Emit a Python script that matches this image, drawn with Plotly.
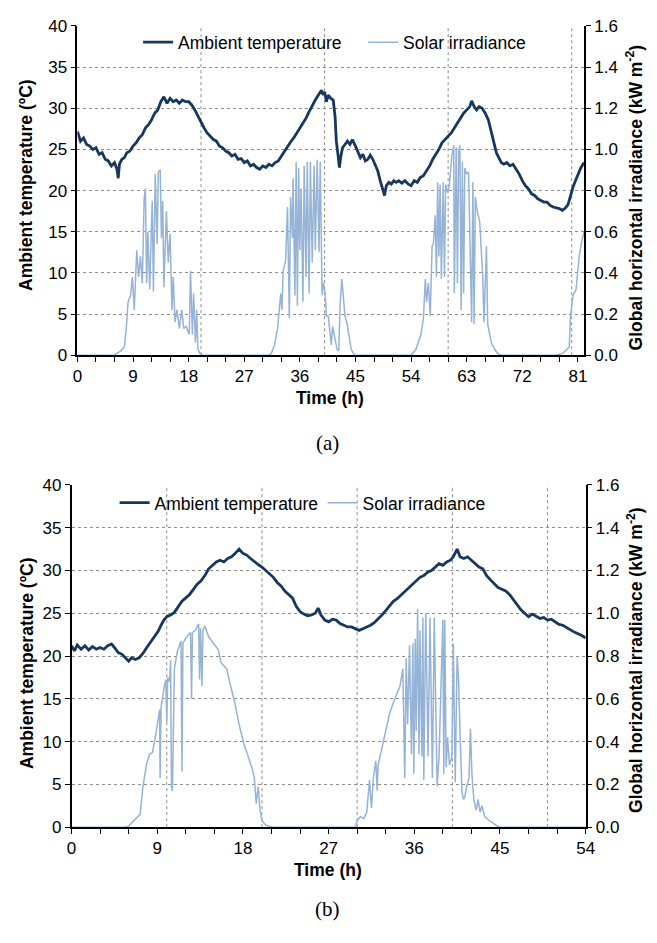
import plotly.graph_objects as go

# ---------------- data: panel (a) ----------------
ta_time = [0, 0.5, 1.0, 1.5, 2.0, 2.5, 3.0, 3.5, 4.0, 4.5, 5.0, 5.5, 6.0, 6.4, 6.6, 6.8, 7.2, 7.6, 8.0, 8.5,
           9.0, 9.5, 10.0, 10.5, 11.0, 11.5, 12.0, 12.5, 13.0, 13.5, 14.0, 14.5, 15.0, 15.5, 16.0, 16.5, 17.0,
           17.5, 18.0, 18.5, 19.0, 19.5, 20.0, 20.5, 21.0, 21.5, 22.0, 22.5, 23.0, 23.5, 24.0, 24.5, 25.0, 25.5,
           26.0, 26.5, 27.0, 27.5, 28.0, 28.5, 29.0, 29.5, 30.0, 30.5, 31.0, 31.5, 32.0, 32.5, 33.0, 33.5, 34.0,
           34.5, 35.0, 35.5, 36.0, 36.5, 37.0, 37.5, 38.0, 38.5, 39.0, 39.5, 39.8, 40.0, 40.3, 40.6, 41.0, 41.4,
           41.7, 41.9, 42.2, 42.4, 42.6, 42.9, 43.3, 43.7, 44.1, 44.5, 45.0, 45.4, 45.8, 46.2, 46.6, 47.0, 47.4,
           47.8, 48.2, 48.6, 49.0, 49.4, 49.7, 50.0, 50.4, 50.8, 51.2, 51.6, 52.0, 52.5, 53.0, 53.5, 54.0, 54.5,
           55.0, 55.5, 56.0, 56.5, 57.0, 57.5, 58.0, 58.5, 59.0, 59.5, 60.0, 60.5, 61.0, 61.5, 62.0, 62.5, 63.0,
           63.5, 63.8, 64.2, 64.6, 65.0, 65.5, 66.0, 66.5, 67.0, 67.4, 67.8, 68.2, 68.6, 69.0, 69.5, 70.0, 70.5,
           71.0, 71.5, 72.0, 72.5, 73.0, 73.5, 74.0, 74.5, 75.0, 75.5, 76.0, 76.5, 77.0, 77.5, 78.0, 78.5, 79.0,
           79.4, 79.8, 80.2, 80.6, 81.0, 81.5, 82.0]
ta_temp = [27.2, 26.0, 26.4, 25.6, 25.4, 25.0, 25.2, 24.4, 24.6, 23.8, 23.6, 23.0, 23.4, 22.6, 21.5, 23.2, 23.8,
           24.0, 24.6, 24.8, 25.4, 25.8, 26.4, 26.8, 27.6, 28.0, 28.6, 29.4, 29.8, 30.8, 31.4, 30.6, 31.2, 30.8,
           31.0, 30.6, 31.0, 30.8, 30.8, 30.4, 29.8, 29.0, 28.2, 27.6, 27.0, 26.6, 26.2, 26.0, 25.4, 25.2, 24.8,
           24.6, 24.2, 24.4, 23.8, 23.9, 23.4, 23.6, 23.0, 23.2, 22.8, 22.6, 23.0, 22.8, 23.2, 23.0, 23.4, 23.6,
           24.2, 24.8, 25.4, 25.9, 26.4, 27.0, 27.6, 28.2, 28.8, 29.6, 30.4, 31.0, 31.6, 32.2, 31.6, 32.0, 30.8,
           31.6, 31.2, 31.0, 29.0, 26.0, 24.2, 22.8, 24.0, 25.2, 25.6, 26.0, 25.6, 26.2, 25.4, 24.6, 24.0, 24.4,
           23.6, 23.8, 24.3, 23.8, 23.2, 22.4, 21.2, 20.2, 19.4, 20.6, 21.0, 20.8, 21.2, 21.0, 21.2, 20.9, 21.2,
           20.8, 20.6, 21.2, 21.0, 21.6, 21.8, 22.4, 23.0, 23.8, 24.4, 25.0, 25.8, 26.2, 26.6, 27.0, 27.6, 28.2,
           28.8, 29.4, 29.8, 30.2, 30.9, 30.2, 29.8, 30.2, 30.0, 29.4, 28.6, 27.0, 25.8, 24.6, 24.0, 23.4, 23.2,
           23.4, 23.0, 23.2, 22.6, 22.0, 21.2, 20.6, 20.2, 19.6, 19.4, 19.0, 18.8, 18.6, 18.6, 18.2, 18.0, 17.9,
           17.8, 17.6, 17.9, 18.3, 19.4, 20.4, 21.2, 21.9, 22.8, 23.4]

sa_time = [0, 6.0, 6.4, 7.0, 7.6, 7.9, 8.2, 8.6, 8.9, 9.2, 9.6, 9.9, 10.2, 10.5, 10.8, 11.0, 11.2, 11.4, 11.7,
           11.9, 12.1, 12.3, 12.6, 12.9, 13.1, 13.4, 13.6, 13.8, 14.0, 14.4, 14.7, 15.0, 15.3, 15.5, 15.8, 16.1,
           16.5, 16.9, 17.2, 17.6, 18.1, 18.3, 18.6, 18.8, 19.1, 19.3, 19.5, 19.8, 20.3,
           31.0, 31.4, 31.9, 32.4, 32.9, 33.1, 33.3, 33.7, 34.0, 34.3, 34.5, 34.8, 34.9, 35.2, 35.4, 35.6, 35.8,
           36.0, 36.2, 36.5, 36.7, 37.0, 37.2, 37.5, 37.7, 38.0, 38.3, 38.5, 38.8, 39.1, 39.3, 39.6, 39.8, 40.1,
           40.3, 40.6, 40.8, 41.1, 41.3, 41.7, 42.0, 42.3, 42.5, 42.8, 43.0, 43.3, 43.6, 43.9, 44.3, 44.8,
           54.0, 54.8, 55.6, 56.0, 56.3, 56.5, 56.8, 57.1, 57.4, 57.6, 57.9, 58.1, 58.3, 58.5, 58.7, 58.9, 59.2,
           59.4, 59.6, 59.9, 60.2, 60.6, 60.9, 61.0, 61.3, 61.5, 61.7, 61.9, 62.1, 62.3, 62.5, 62.7, 63.0, 63.3,
           63.5, 63.8, 64.0, 64.2, 64.4, 64.7, 65.1, 65.4, 65.6, 65.8, 66.0, 66.2, 66.4, 66.7, 67.0, 67.5, 68.0,
           68.5, 77.5, 78.6, 79.6, 79.8, 80.2, 80.7, 81.2, 81.6, 82.0]
sa_irr = [0, 0, 0.01, 0.02, 0.04, 0.13, 0.26, 0.29, 0.38, 0.22, 0.51, 0.38, 0.48, 0.35, 0.76, 0.81, 0.35, 0.60,
          0.32, 0.53, 0.75, 0.31, 0.88, 0.54, 0.89, 0.90, 0.57, 0.75, 0.33, 0.70, 0.45, 0.59, 0.22, 0.38, 0.16,
          0.22, 0.13, 0.22, 0.13, 0.14, 0.10, 0.41, 0.10, 0.30, 0.06, 0.22, 0.03, 0.01, 0.0,
          0.0, 0.01, 0.05, 0.13, 0.30, 0.22, 0.41, 0.46, 0.72, 0.18, 0.77, 0.57, 0.86, 0.29, 0.94, 0.24, 0.91,
          0.51, 0.81, 0.26, 0.92, 0.38, 0.94, 0.30, 0.94, 0.45, 0.92, 0.51, 0.95, 0.50, 0.94, 0.29, 0.35, 0.30,
          0.19, 0.19, 0.13, 0.05, 0.14, 0.08, 0.03, 0.02, 0.24, 0.37, 0.29, 0.19, 0.16, 0.10, 0.03, 0.0,
          0.0, 0.03, 0.10, 0.18, 0.37, 0.26, 0.35, 0.19, 0.53, 0.54, 0.68, 0.38, 0.84, 0.48, 0.83, 0.37, 0.84,
          0.38, 0.83, 0.79, 0.83, 0.97, 1.02, 0.30, 1.01, 0.35, 0.99, 1.02, 0.22, 0.94, 0.30, 0.91, 0.88, 0.89,
          0.51, 0.16, 0.84, 0.15, 0.77, 0.70, 0.65, 0.49, 0.38, 0.16, 0.32, 0.53, 0.15, 0.10, 0.06, 0.03, 0.01,
          0.0, 0.0, 0.01, 0.04, 0.19, 0.29, 0.32, 0.48, 0.55, 0.60]

# ---------------- data: panel (b) ----------------
tb_time = [0, 0.3, 0.6, 1.0, 1.4, 1.8, 2.2, 2.6, 3.0, 3.4, 3.8, 4.2, 4.5, 4.9, 5.3, 5.7, 6.0, 6.3, 6.7, 7.1,
           7.5, 7.9, 8.3, 8.7, 9.1, 9.4, 9.7, 10.0, 10.4, 10.8, 11.2, 11.6, 12.0, 12.4, 12.8, 13.2, 13.6, 14.0,
           14.4, 14.8, 15.2, 15.6, 16.0, 16.4, 16.8, 17.2, 17.6, 18.0, 18.4, 18.8, 19.2, 19.6, 20.0, 20.4, 20.8,
           21.2, 21.6, 22.0, 22.4, 22.8, 23.2, 23.6, 24.0, 24.4, 24.8, 25.2, 25.6, 25.9, 26.2, 26.6, 27.0, 27.4,
           27.8, 28.2, 28.6, 29.0, 29.4, 29.8, 30.2, 30.6, 31.0, 31.4, 31.8, 32.2, 32.6, 33.0, 33.4, 33.8, 34.2,
           34.6, 35.0, 35.4, 35.8, 36.2, 36.6, 37.0, 37.4, 37.8, 38.2, 38.6, 39.0, 39.4, 39.8, 40.1, 40.5, 40.8,
           41.2, 41.6, 42.0, 42.4, 42.8, 43.2, 43.6, 44.0, 44.4, 44.8, 45.2, 45.6, 46.0, 46.4, 46.8, 47.2, 47.6,
           48.0, 48.4, 48.8, 49.2, 49.6, 50.0, 50.4, 50.8, 51.2, 51.6, 52.0, 52.4, 52.8, 53.2, 53.6, 54.0]
tb_temp = [21.2, 20.6, 21.3, 20.8, 21.2, 20.7, 21.1, 20.8, 21.0, 20.8, 21.2, 21.4, 21.0, 20.4, 20.2, 19.8, 19.4,
           19.8, 19.6, 19.8, 20.3, 21.0, 21.6, 22.2, 22.9, 23.6, 24.2, 24.6, 24.8, 25.1, 25.8, 26.4, 26.8, 27.2,
           27.8, 28.4, 28.8, 29.4, 30.2, 30.6, 31.0, 31.2, 31.0, 31.4, 31.6, 32.0, 32.5, 32.0, 31.8, 31.4, 31.0,
           30.7, 30.4, 30.0, 29.6, 29.2, 28.6, 28.2, 27.6, 27.2, 26.8, 25.8, 25.2, 24.9, 24.7, 24.8, 25.0, 25.6,
           24.8, 24.2, 24.0, 24.3, 24.2, 23.8, 23.6, 23.4, 23.4, 23.2, 23.0, 23.2, 23.4, 23.6, 23.9, 24.3, 24.8,
           25.3, 25.9, 26.4, 26.7, 27.1, 27.6, 28.0, 28.4, 28.8, 29.2, 29.4, 29.8, 30.0, 30.4, 30.8, 30.6, 31.0,
           31.2, 31.6, 32.5, 31.6, 31.4, 31.6, 31.2, 30.8, 30.4, 30.2, 29.4, 28.9, 28.4, 28.0, 27.8, 27.6, 27.2,
           26.6, 26.0, 25.4, 25.0, 24.6, 24.9, 24.6, 24.4, 24.5, 24.2, 24.3, 24.0, 23.7, 23.6, 23.3, 23.0, 22.8,
           22.6, 22.4, 22.1]

sb_time = [0, 5.6, 6.0, 6.7, 7.2, 7.5, 7.9, 8.2, 8.5, 8.8, 9.1, 9.25, 9.3, 9.4, 9.75, 9.9, 10.0, 10.1, 10.3,
           10.4, 10.5, 10.6, 10.8, 11.1, 11.5, 11.6, 11.7, 12.1, 12.5, 12.6, 12.7, 13.0, 13.35, 13.45, 13.55,
           13.7, 13.8, 14.0, 14.4, 14.9, 15.4, 15.7, 16.3, 16.6, 17.1, 17.6, 18.1, 18.7, 19.0, 19.2, 19.4, 19.6,
           19.8, 20.0, 20.4, 21.1,
           29.8, 30.0, 30.35, 30.7, 31.0, 31.3, 31.5, 31.7, 31.96, 32.1, 32.2, 32.6, 32.9, 33.4, 33.95, 34.5,
           34.8, 35.0, 35.15, 35.3, 35.5, 35.7, 35.85, 35.95, 36.1, 36.2, 36.35, 36.5, 36.6, 36.8, 36.9, 37.0,
           37.2, 37.45, 37.65, 37.9, 38.1, 38.3, 38.4, 38.6, 38.75, 39.0, 39.1, 39.2, 39.35, 39.5, 39.7, 39.95,
           40.1, 40.3, 40.5, 40.65, 40.8, 41.0, 41.15, 41.3, 41.5, 41.75, 41.9, 42.05, 42.25, 42.5, 42.7, 42.9,
           43.1, 43.4, 43.9, 44.6, 44.9, 54.0]
sb_irr = [0, 0, 0.005, 0.04, 0.06, 0.19, 0.30, 0.34, 0.35, 0.42, 0.50, 0.55, 0.23, 0.56, 0.66, 0.69, 0.49, 0.70,
          0.68, 0.78, 0.19, 0.17, 0.74, 0.82, 0.87, 0.26, 0.86, 0.89, 0.91, 0.60, 0.91, 0.92, 0.95, 0.69, 0.93,
          0.66, 0.92, 0.94, 0.89, 0.86, 0.83, 0.77, 0.74, 0.68, 0.59, 0.48, 0.39, 0.31, 0.27, 0.23, 0.11, 0.19,
          0.08, 0.03, 0.01, 0.0,
          0.0, 0.03, 0.05, 0.04, 0.07, 0.22, 0.09, 0.23, 0.31, 0.17, 0.29, 0.37, 0.43, 0.53, 0.60, 0.66, 0.74,
          0.23, 0.79, 0.48, 0.85, 0.34, 0.86, 0.25, 0.88, 0.45, 1.02, 0.34, 0.92, 0.33, 0.98, 0.22, 1.00, 0.33,
          0.98, 0.23, 0.98, 0.40, 0.19, 0.33, 0.60, 0.97, 0.25, 0.97, 0.28, 0.42, 0.29, 0.33, 0.86, 0.21, 0.80,
          0.69, 0.45, 0.17, 0.13, 0.14, 0.19, 0.23, 0.46, 0.25, 0.13, 0.08, 0.13, 0.07, 0.10, 0.05, 0.03, 0.01,
          0.0, 0.0]

xticks_a = list(range(0, 82, 9))
xticks_b = list(range(0, 55, 9))
vgrid_a = [20, 40, 60, 80]
vgrid_b = [10, 20, 30, 40, 50]

NAVY = "#17375E"
LIGHT = "#95B3D7"
GRID = "#8C8C8C"
FONT = "Liberation Sans"
W, H = 657, 943


def px2x(p):
    return p / W


def px2y(p):
    return 1 - p / H


fig = go.Figure()

# panel (a)
fig.add_trace(go.Scatter(x=ta_time, y=ta_temp, mode="lines", name="Ambient temperature",
                         line=dict(color=NAVY, width=2.8), xaxis="x", yaxis="y", legend="legend"))
fig.add_trace(go.Scatter(x=sa_time, y=sa_irr, mode="lines", name="Solar irradiance",
                         line=dict(color=LIGHT, width=1.5), xaxis="x", yaxis="y2", legend="legend"))
# panel (b)
fig.add_trace(go.Scatter(x=tb_time, y=tb_temp, mode="lines", name="Ambient temperature",
                         line=dict(color=NAVY, width=2.8), xaxis="x2", yaxis="y3", legend="legend2"))
fig.add_trace(go.Scatter(x=sb_time, y=sb_irr, mode="lines", name="Solar irradiance",
                         line=dict(color=LIGHT, width=1.5), xaxis="x2", yaxis="y4", legend="legend2"))

tickfont = dict(family=FONT, size=17, color="black")


def xaxis_main(domain, yanchor, rng, tickvals):
    return dict(domain=domain, anchor=yanchor, range=rng, tickvals=tickvals, ticks="outside",
                ticklen=5, tickwidth=1, tickcolor="black", showline=True, linecolor="black", linewidth=1.5,
                showgrid=False, zeroline=False, tickfont=tickfont,
                minor=dict(dtick=3, tick0=0, ticks="outside", ticklen=5, tickcolor="black", showgrid=False))


def yaxis_left(domain, xanchor):
    return dict(domain=domain, anchor=xanchor, range=[0, 40], dtick=5, ticks="outside", ticklen=5,
                tickcolor="black", showline=True, linecolor="black", linewidth=1.5, showgrid=True,
                gridcolor=GRID, griddash="dot", gridwidth=1, zeroline=False, tickfont=tickfont)


def yaxis_right(over, xanchor):
    return dict(overlaying=over, anchor=xanchor, side="right", range=[0, 1.6], dtick=0.2, tickformat=".1f",
                ticks="outside", ticklen=5, tickcolor="black", showline=True, linecolor="black",
                linewidth=1.5, showgrid=False, zeroline=False, tickfont=tickfont)


dom_xa = [px2x(74), px2x(591.7)]
dom_ya = [px2y(353.3), px2y(17.3)]
dom_xb = [px2x(68), px2x(593.3)]
dom_yb = [px2y(835), px2y(485.7)]

fig.update_layout(
    width=W, height=H, margin=dict(l=0, r=0, t=0, b=0),
    paper_bgcolor="white", plot_bgcolor="rgba(0,0,0,0)",
    font=dict(family=FONT, size=17, color="black"),
    xaxis=xaxis_main(dom_xa, "y", [0, 82], xticks_a),
    yaxis=yaxis_left(dom_ya, "x"),
    yaxis2=yaxis_right("y", "x"),
    xaxis2=xaxis_main(dom_xb, "y3", [0, 54], xticks_b),
    yaxis3=yaxis_left(dom_yb, "x2"),
    yaxis4=yaxis_right("y3", "x2"),
    legend=dict(orientation="h", x=px2x(136), y=px2y(34), xanchor="left", yanchor="middle",
                font=dict(family=FONT, size=17.5), bgcolor="rgba(0,0,0,0)", itemwidth=30,
                entrywidth=180, traceorder="normal"),
    legend2=dict(orientation="h", x=px2x(112), y=px2y(504), xanchor="left", yanchor="middle",
                 font=dict(family=FONT, size=17.5), bgcolor="rgba(0,0,0,0)", itemwidth=30,
                 entrywidth=163, traceorder="normal"),
)

# vertical dotted gridlines (every 20 h in (a), every 10 h in (b))
for xv in vgrid_a:
    fig.add_shape(type="line", xref="x", yref="y domain", x0=xv, x1=xv, y0=0, y1=1, layer="below",
                  line=dict(color=GRID, width=1, dash="dot"))
for xv in vgrid_b:
    fig.add_shape(type="line", xref="x2", yref="y3 domain", x0=xv, x1=xv, y0=0, y1=1, layer="below",
                  line=dict(color=GRID, width=1, dash="dot"))

ttl = dict(family=FONT, size=17.5, color="black")
anns = [
    dict(text="<b>Ambient temperature (ºC)</b>", x=px2x(22), y=px2y(180), textangle=-90),
    dict(text="<b>Global horizontal irradiance (kW m<sup>-2</sup>)</b>", x=px2x(643), y=px2y(192), textangle=-90),
    dict(text="<b>Time (h)</b>", x=px2x(332), y=px2y(397), textangle=0),
    dict(text="<b>Ambient temperature (ºC)</b>", x=px2x(22), y=px2y(668), textangle=-90),
    dict(text="<b>Global horizontal irradiance (kW m<sup>-2</sup>)</b>", x=px2x(643), y=px2y(664), textangle=-90),
    dict(text="<b>Time (h)</b>", x=px2x(330), y=px2y(879), textangle=0),
]
for a in anns:
    fig.add_annotation(xref="paper", yref="paper", showarrow=False, xanchor="center", yanchor="middle",
                       font=ttl, **a)
for lab, yy in (("(a)", 443), ("(b)", 918)):
    fig.add_annotation(text=lab, xref="paper", yref="paper", x=px2x(330), y=px2y(yy), showarrow=False,
                       xanchor="center", yanchor="middle",
                       font=dict(family="Liberation Serif", size=21, color="black"))

fig.write_html("out.html")
